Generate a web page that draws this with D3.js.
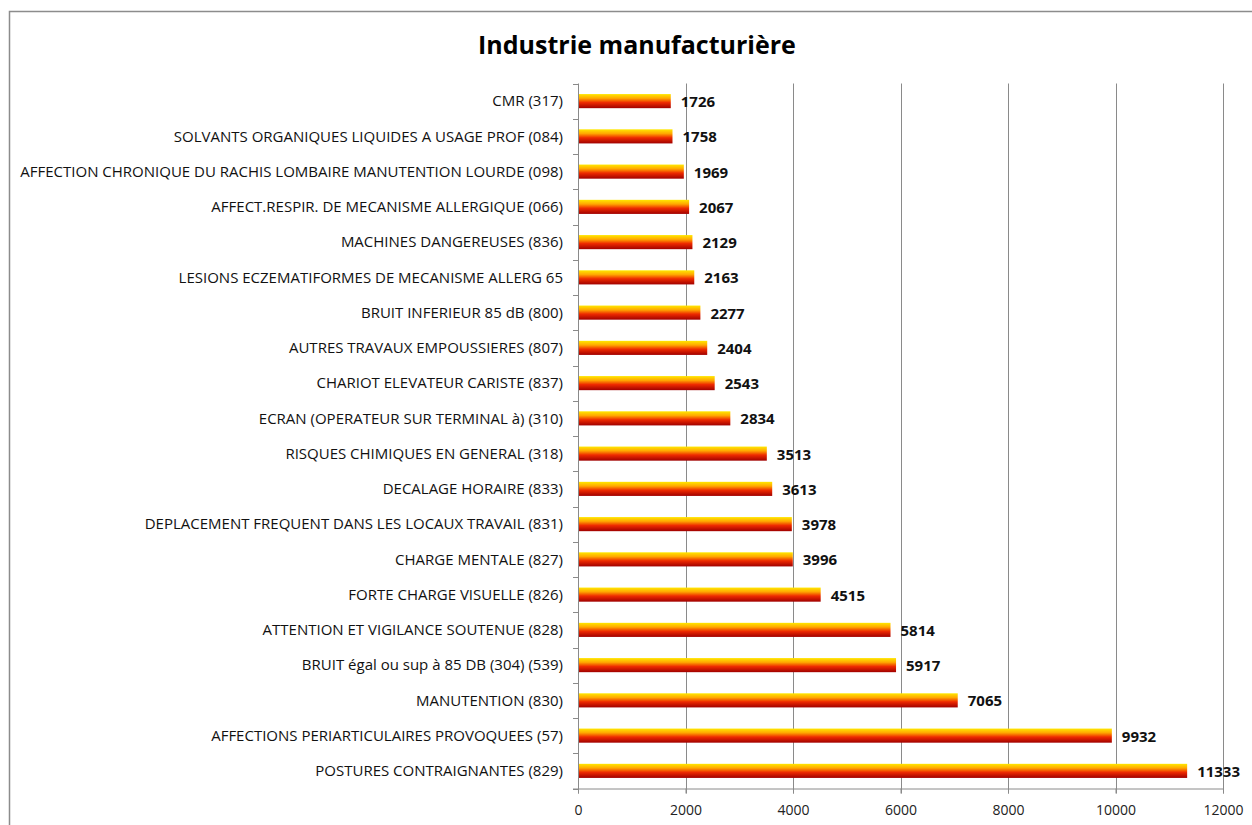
<!DOCTYPE html>
<html>
<head>
<meta charset="utf-8">
<script src="https://cdn.jsdelivr.net/npm/d3@7"></script>
<style>
  body { margin: 0; background: #fff; }
  svg { display: block; }
</style>
</head>
<body>
<div id="chart"></div>
<script>
  // categories, top to bottom as shown
  var categories = [
    'CMR (317)',
    'SOLVANTS ORGANIQUES LIQUIDES A USAGE PROF (084)',
    'AFFECTION CHRONIQUE DU RACHIS LOMBAIRE MANUTENTION LOURDE (098)',
    'AFFECT.RESPIR. DE MECANISME ALLERGIQUE (066)',
    'MACHINES DANGEREUSES (836)',
    'LESIONS ECZEMATIFORMES DE MECANISME ALLERG 65',
    'BRUIT INFERIEUR 85 dB (800)',
    'AUTRES TRAVAUX EMPOUSSIERES (807)',
    'CHARIOT ELEVATEUR CARISTE (837)',
    'ECRAN (OPERATEUR SUR TERMINAL à) (310)',
    'RISQUES CHIMIQUES EN GENERAL (318)',
    'DECALAGE HORAIRE (833)',
    'DEPLACEMENT FREQUENT DANS LES LOCAUX TRAVAIL (831)',
    'CHARGE MENTALE (827)',
    'FORTE CHARGE VISUELLE (826)',
    'ATTENTION ET VIGILANCE SOUTENUE (828)',
    'BRUIT égal ou sup à 85 DB (304) (539)',
    'MANUTENTION (830)',
    'AFFECTIONS PERIARTICULAIRES PROVOQUEES (57)',
    'POSTURES CONTRAIGNANTES (829)'
  ];
  var values = [1726, 1758, 1969, 2067, 2129, 2163, 2277, 2404, 2543, 2834,
                3513, 3613, 3978, 3996, 4515, 5814, 5917, 7065, 9932, 11333];
  var xTicks = [0, 2000, 4000, 6000, 8000, 10000, 12000];
  var title = 'Industrie manufacturière';

  var width = 1252, height = 825;
  var margin = { left: 578, right: 29, top: 83.5, bottom: 36.5 };

  var svg = d3.select('#chart').append('svg')
      .attr('width', width)
      .attr('height', height);

  // gradient for the bars: yellow on top, dark red underneath
  var grad = svg.append('defs').append('linearGradient')
      .attr('id', 'barGrad')
      .attr('x1', 0).attr('y1', 0).attr('x2', 0).attr('y2', 1);
  grad.append('stop').attr('offset', '0%').attr('stop-color', '#ffe800');
  grad.append('stop').attr('offset', '30%').attr('stop-color', '#ffa800');
  grad.append('stop').attr('offset', '60%').attr('stop-color', '#ee2a00');
  grad.append('stop').attr('offset', '100%').attr('stop-color', '#a00000');

  // chart frame (runs off the right and bottom of the picture)
  svg.append('rect')
      .attr('x', 9.5).attr('y', 11.5)
      .attr('width', 1400).attr('height', 1000)
      .attr('fill', '#fff')
      .attr('stroke', '#8c8c8c')
      .attr('stroke-width', 1.5);

  var x = d3.scaleLinear()
      .domain([0, 12000])
      .range([margin.left, width - margin.right]);

  var y = d3.scaleBand()
      .domain(categories)
      .range([margin.top, height - margin.bottom])
      .paddingInner(0.6)
      .paddingOuter(0.3);

  // vertical gridlines
  svg.append('g')
      .selectAll('line')
      .data(xTicks.slice(1))
      .enter()
      .append('line')
      .attr('x1', function(d) { return Math.round(x(d)) + 0.5; })
      .attr('x2', function(d) { return Math.round(x(d)) + 0.5; })
      .attr('y1', margin.top)
      .attr('y2', height - margin.bottom + 5)
      .attr('stroke', '#8a8a8a')
      .attr('stroke-width', 1);

  // bottom axis
  var xAxis = svg.append('g')
      .attr('transform', 'translate(0,' + (height - margin.bottom) + ')')
      .call(d3.axisBottom(x).tickValues(xTicks).tickSize(5).tickPadding(12)
          .tickFormat(d3.format('d')));
  xAxis.select('.domain').remove();
  xAxis.append('line')
      .attr('x1', margin.left - 5).attr('x2', width - margin.right)
      .attr('y1', 0.5).attr('y2', 0.5)
      .attr('stroke', '#8a8a8a');
  xAxis.selectAll('.tick line').attr('stroke', '#8a8a8a');
  xAxis.selectAll('text')
      .attr('font-family', 'Open Sans, sans-serif')
      .attr('font-size', 14)
      .attr('fill', '#222');

  // left axis with tick marks between categories
  var left = svg.append('g');
  left.append('line')
      .attr('x1', margin.left + 0.5).attr('x2', margin.left + 0.5)
      .attr('y1', margin.top).attr('y2', height - margin.bottom + 5)
      .attr('stroke', '#8a8a8a');
  var step = y.step();
  left.selectAll('line.tk')
      .data(d3.range(categories.length + 1))
      .enter()
      .append('line')
      .attr('class', 'tk')
      .attr('x1', margin.left - 5).attr('x2', margin.left)
      .attr('y1', function(i) { return Math.round(margin.top + i * step) + 0.5; })
      .attr('y2', function(i) { return Math.round(margin.top + i * step) + 0.5; })
      .attr('stroke', '#8a8a8a');

  left.selectAll('text')
      .data(categories)
      .enter()
      .append('text')
      .attr('x', margin.left - 15)
      .attr('y', function(d) { return y(d) + y.bandwidth() / 2; })
      .attr('dy', '0.35em')
      .attr('text-anchor', 'end')
      .attr('font-family', 'Open Sans, sans-serif')
      .attr('font-size', 15)
      .attr('fill', '#111')
      .text(function(d) { return d; });

  // bars
  svg.append('g')
      .selectAll('rect')
      .data(values)
      .enter()
      .append('rect')
      .attr('x', x(0) + 1)
      .attr('y', function(d, i) { return y(categories[i]); })
      .attr('width', function(d) { return x(d) - x(0) - 1; })
      .attr('height', y.bandwidth())
      .attr('fill', 'url(#barGrad)');

  // value labels
  svg.append('g')
      .selectAll('text')
      .data(values)
      .enter()
      .append('text')
      .attr('x', function(d) { return x(d) + 10; })
      .attr('y', function(d, i) { return y(categories[i]) + y.bandwidth() / 2; })
      .attr('dy', '0.4em')
      .attr('font-family', 'Open Sans, sans-serif')
      .attr('font-weight', 'bold')
      .attr('font-size', 15)
      .attr('fill', '#111')
      .text(function(d) { return d; });

  // title
  svg.append('text')
      .attr('x', 637)
      .attr('y', 54)
      .attr('text-anchor', 'middle')
      .attr('font-family', 'Open Sans, sans-serif')
      .attr('font-weight', 'bold')
      .attr('font-size', 25)
      .attr('fill', '#000')
      .text(title);
</script>
</body>
</html>
